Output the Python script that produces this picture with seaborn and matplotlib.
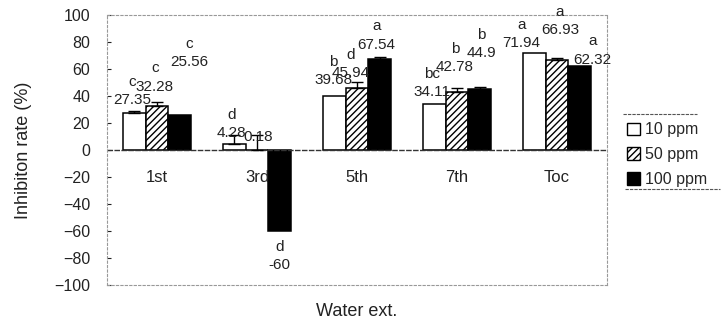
import matplotlib
matplotlib.use("Agg")
import matplotlib.pyplot as plt
from matplotlib.patches import Patch
from matplotlib.lines import Line2D
import numpy as np
import pandas as pd
import seaborn as sns

# ---- data ----
extracts = ["1st", "3rd", "5th", "7th", "Toc"]
doses = ["10 ppm", "50 ppm", "100 ppm"]
rate_10 = [27.35, 4.28, 39.68, 34.11, 71.94]
rate_50 = [32.28, 0.18, 45.94, 42.78, 66.93]
rate_100 = [25.56, -60.0, 67.54, 44.90, 62.32]
err_10 = [1.5, 6.7, 0.0, 0.0, 0.0]
err_50 = [3.0, 11.0, 4.5, 3.0, 1.0]
err_100 = [0.0, 0.0, 1.0, 2.0, 0.0]
letters_10 = ["c", "d", "b", "bc", "a"]
letters_50 = ["c", "", "d", "b", "a"]
letters_100 = ["c", "d", "a", "b", "a"]

# label placement (x offset from bar centre in group units, y of value text)
label_dx = [[-0.02, -0.03, -0.01, -0.02, -0.13],
            [-0.02, 0.01, -0.06, -0.02, 0.03],
            [0.10, 0.00, -0.03, 0.02, 0.13]]
label_y = [[37, 12.6, 52, 43, 79],
           [47, 9.6, 57, 61.5, 89],
           [65, -85, 78, 72, 67]]

values = [rate_10, rate_50, rate_100]
errors = [err_10, err_50, err_100]
letters = [letters_10, letters_50, letters_100]

df = pd.DataFrame({
    "extract": extracts * 3,
    "dose": [d for d in doses for _ in extracts],
    "rate": rate_10 + rate_50 + rate_100,
})

sns.set_style("white")
plt.rcParams["font.family"] = ["Liberation Sans", "DejaVu Sans"]
plt.rcParams["hatch.linewidth"] = 1.0

fig = plt.figure(figsize=(7.23, 3.26), dpi=100)
ax = fig.add_axes([107 / 723, 41 / 326, 500 / 723, 270 / 326])

sns.barplot(data=df, x="extract", y="rate", hue="dose", order=extracts,
            hue_order=doses, palette=["white", "white", "black"],
            edgecolor="black", linewidth=1.1, width=0.68, errorbar=None,
            legend=False, ax=ax)

bar_groups = list(ax.containers)
for p in bar_groups[1]:
    p.set_hatch("/////")

for i, cont in enumerate(bar_groups):
    xs = np.array([p.get_x() + p.get_width() / 2 for p in cont])
    v = np.array(values[i])
    e = np.array(errors[i])
    m = e > 0
    ax.errorbar(xs[m], v[m], yerr=[np.zeros(m.sum()), e[m]], fmt="none",
                ecolor="black", elinewidth=1.0, capsize=4, capthick=1.0,
                zorder=3)
    for j, x in enumerate(xs):
        tx = x + label_dx[i][j]
        ty = label_y[i][j]
        ax.text(tx, ty, f"{v[j]:g}", ha="center", va="center",
                fontsize=11, color="#222222", zorder=4)
        if letters[i][j]:
            ax.text(tx, ty + 13.5, letters[i][j], ha="center", va="center",
                    fontsize=11, color="#222222", zorder=4)

# extract names written just below the zero line
for k, name in enumerate(extracts):
    ax.text(k, -20.5, name, ha="center", va="center", fontsize=12,
            color="#222222")

ax.axhline(0, color="#333333", lw=1.0, ls=(0, (4, 1)), zorder=1)

ax.set_xlim(-0.5, 4.5)
ax.set_ylim(-100, 100)
ax.set_yticks(np.arange(-100, 101, 20))
ax.set_xticks([])
ax.set_xlabel("")
ax.set_ylabel("Inhibiton rate (%)", fontsize=13, labelpad=16,
              color="#222222")
ax.tick_params(axis="y", direction="in", length=3, width=0.8, pad=12,
               labelsize=11.5, colors="#222222", left=True)
fig.text(357 / 723, 1 - 311 / 326, "Water ext.", ha="center", va="center",
         fontsize=13, color="#222222")

for side in ["left", "right", "top", "bottom"]:
    ax.spines[side].set_visible(True)
    ax.spines[side].set_linestyle((0, (2, 2)))
    ax.spines[side].set_color("#999999")
    ax.spines[side].set_linewidth(0.8)

# legend with rules above and below
handles = [Patch(facecolor="white", edgecolor="black", lw=1.0),
           Patch(facecolor="white", edgecolor="black", hatch="/////", lw=1.0),
           Patch(facecolor="black", edgecolor="black", lw=1.0)]
fig.legend(handles, doses, loc="upper left",
           bbox_to_anchor=(624 / 723, 1 - 119 / 326), frameon=False,
           fontsize=11.5, handlelength=0.8, handleheight=0.8,
           handletextpad=0.3, labelspacing=0.62, borderaxespad=0,
           borderpad=0.2)
fig.add_artist(Line2D([623 / 723, 697 / 723], [1 - 114 / 326] * 2,
                      transform=fig.transFigure, color="#555555", lw=0.8,
                      ls=(0, (3, 1))))
fig.add_artist(Line2D([625 / 723, 720 / 723], [1 - 189 / 326] * 2,
                      transform=fig.transFigure, color="#555555", lw=0.8,
                      ls=(0, (3, 1))))

fig.savefig("out.png", dpi=100)
